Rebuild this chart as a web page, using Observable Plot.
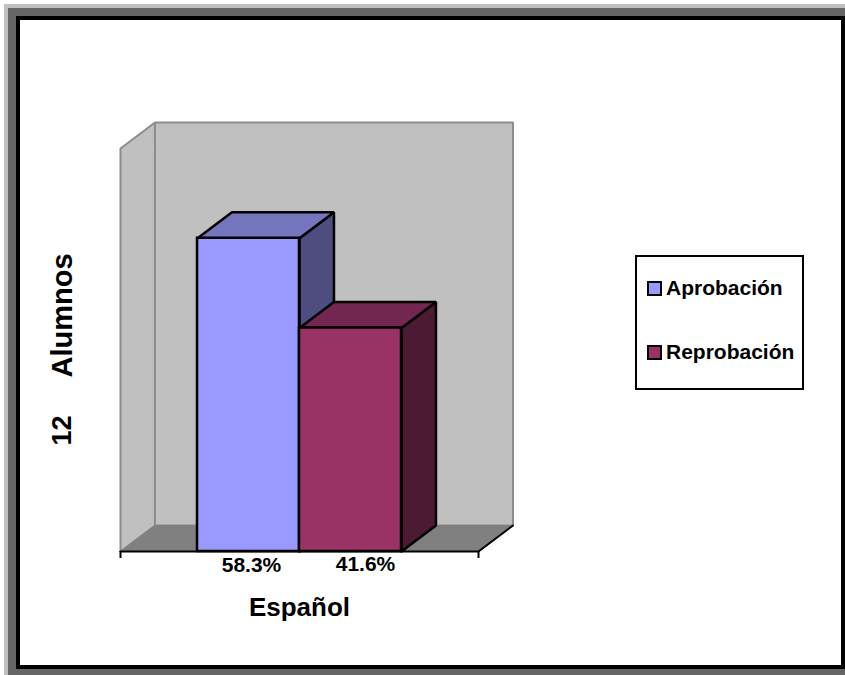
<!DOCTYPE html>
<html><head><meta charset="utf-8">
<script src="https://cdn.jsdelivr.net/npm/d3@7"></script>
<script src="https://cdn.jsdelivr.net/npm/@observablehq/plot@0.6"></script>
<style>
html,body{margin:0;padding:0;background:#fff;overflow:hidden}
#page{position:absolute;left:0;top:0;width:845px;height:675px;overflow:hidden}
#f1{position:absolute;left:4px;top:4px;right:0;bottom:0;background:#c0c0c0}
#f2{position:absolute;left:8px;top:8px;right:0;bottom:0;background:#666}
#f3{position:absolute;left:16px;top:16px;right:0;bottom:6px;background:#fff;border:4px solid #000;box-sizing:border-box}
#chart{position:absolute;left:0;top:0}
#chart svg{background:transparent}
#legend{position:absolute;left:635px;top:255px;width:169px;height:135px;box-sizing:border-box;border:2px solid #000;background:#fff;font:bold 21px "Liberation Sans",Arial,sans-serif;color:#000}
.item{position:absolute;left:10px;white-space:nowrap;line-height:24px;height:24px}
.sw{display:inline-block;width:15px;height:15px;box-sizing:border-box;border:2.5px solid #000;margin-right:4px;vertical-align:-1px}
</style></head>
<body>
<div id="page"><div id="f1"></div><div id="f2"></div><div id="f3"></div><div id="chart"></div><div id="legend"></div></div>
<script>
const category = "Español";
const seriesNames = ["Aprobación", "Reprobación"];
const seriesValues = [58.3, 41.6];
const valueLabels = ["58.3%", "41.6%"];
const yTitleCount = "12";
const yTitleUnit = "Alumnos";

const frontColors = ["#9999ff", "#993366"];
const topColors = ["#7575bd", "#732650"];
const sideColors = ["#4d4d80", "#4d1a33"];

const xMax = 3.51, yMax = 75, gap = 0.755, depthX = 0.338, depthY = 4.84;
const FONT = '"Liberation Sans",Arial,sans-serif';

const poly = (pts, opts) => Plot.line([...pts, pts[0]].map(([x, y]) => ({x, y})), {x: "x", y: "y", curve: "linear", strokeLinejoin: "miter", ...opts});
const d = ([x, y]) => [x + depthX, y + depthY];

const wall = {fill: "#c0c0c0", stroke: "#8c8c8c", strokeWidth: 2};
const marks = [
  poly([[0, 0], [0, yMax], d([0, yMax]), d([0, 0])], wall),
  poly([d([0, 0]), d([0, yMax]), d([xMax, yMax]), d([xMax, 0])], wall),
  poly([[0, 0], d([0, 0]), d([xMax, 0]), [xMax, 0]], {fill: "#808080", stroke: "#808080", strokeWidth: 1}),
  Plot.line([d([xMax, 0]), [xMax, 0], [0, 0]].map(([x, y]) => ({x, y})), {x: "x", y: "y", stroke: "#000", strokeWidth: 2}),
  Plot.ruleX([0, xMax], {y1: 0, y2: -1.3, stroke: "#000", strokeWidth: 2})
];
const bar = {stroke: "#000", strokeWidth: 2.5};
seriesValues.forEach((v, i) => {
  const x1 = gap + i, x2 = gap + i + 1;
  marks.push(
    poly([[x2, 0], [x2, v], d([x2, v]), d([x2, 0])], {fill: sideColors[i], ...bar}),
    poly([[x1, v], [x2, v], d([x2, v]), d([x1, v])], {fill: topColors[i], ...bar}),
    Plot.rect([{x1, x2, y1: 0, y2: v}], {x1: "x1", x2: "x2", y1: "y1", y2: "y2", fill: frontColors[i], ...bar})
  );
});
const labelShift = [3, 15], labelDy = [14, 13];
valueLabels.forEach((t, i) => marks.push(
  Plot.text([t], {x: gap + i + 0.5, y: 0, text: d => d, dx: labelShift[i], dy: labelDy[i], fontSize: 21, fontWeight: "bold", fill: "#000", fontFamily: FONT})
));
marks.push(
  Plot.text([category], {x: xMax / 2, y: 0, text: d => d, dy: 56, fontSize: 26, fontWeight: "bold", fill: "#000", fontFamily: FONT}),
  Plot.text([yTitleUnit], {x: 0, y: yMax / 2, text: d => d, dx: -58, dy: -34.5, rotate: -90, fontSize: 29, fontWeight: "bold", fill: "#000", fontFamily: FONT}),
  Plot.text([yTitleCount], {x: 0, y: yMax / 2, text: d => d, dx: -58, dy: 80.5, rotate: -90, fontSize: 27, fontWeight: "bold", fill: "#000", fontFamily: FONT})
);

const plot = Plot.plot({
  width: 845, height: 675,
  marginLeft: 120, marginRight: 367, marginTop: 148, marginBottom: 124,
  x: {domain: [0, xMax], axis: null},
  y: {domain: [0, yMax], axis: null},
  style: {background: "transparent", overflow: "visible"},
  marks
});
document.getElementById("chart").append(plot);

const legend = document.getElementById("legend");
seriesNames.forEach((n, i) => {
  const it = document.createElement("div");
  it.className = "item";
  it.style.top = (19 + i * 64) + "px";
  const sw = document.createElement("span");
  sw.className = "sw"; sw.style.background = frontColors[i];
  it.append(sw, n);
  legend.append(it);
});
</script>
</body></html>
